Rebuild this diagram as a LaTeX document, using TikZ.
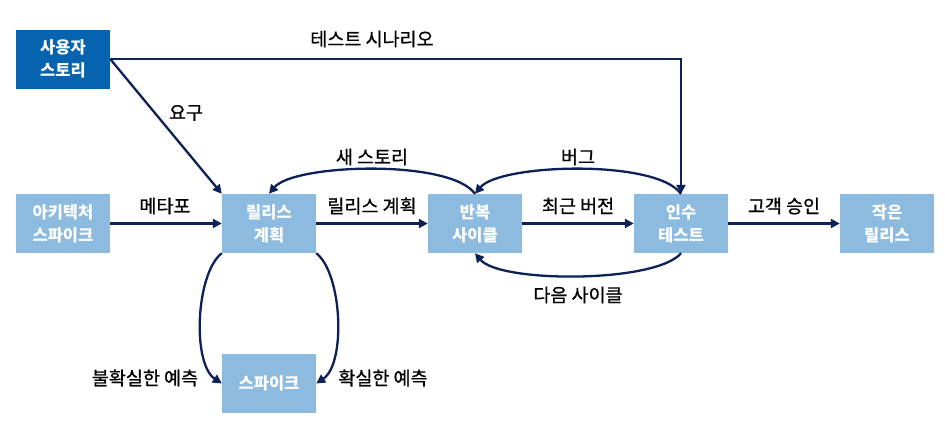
\documentclass[tikz,border=0pt]{standalone}
\usepackage{fontspec}
\setmainfont{Noto Sans CJK KR}
\newfontfamily\lblfont[FakeBold=0.8]{Noto Sans CJK KR}
\usetikzlibrary{arrows.meta}
\definecolor{navy}{HTML}{0B2157}
\definecolor{dkblue}{HTML}{0563B0}
\definecolor{ltblue}{HTML}{8DBBDF}
\begin{document}
\begin{tikzpicture}[x=1pt,y=-1pt,
  box/.style={fill=ltblue,minimum width=94pt,minimum height=59pt,inner sep=0pt,
    text=white,font=\fontsize{16.5}{23}\selectfont\bfseries,align=center},
  dbox/.style={box,fill=dkblue},
  lbl/.style={font=\lblfont\fontsize{18.5}{22}\selectfont,text=black,inner sep=0pt},
  conn/.style={draw=navy,line width=2.3pt,-{Triangle[length=9pt,width=9pt]}}]
\useasboundingbox (0,0) rectangle (945,423);
\node[dbox] (us) at (63,59) {사용자\\스토리};
\node[box] (as) at (63,223.5) {아키텍처\\스파이크};
\node[box] (rp) at (269,223.5) {릴리스\\계획};
\node[box] (ic) at (475,223.5) {반복\\사이클};
\node[box] (at) at (681,223.5) {인수\\테스트};
\node[box] (sr) at (887,223.5) {작은\\릴리스};
\node[box] (sp) at (269,383.5) {스파이크};
\draw[conn] (us.east) -- (rp.north west);
\draw[conn] (us.east) -| (at.north);
\draw[conn] (as) -- (rp);
\draw[conn] (rp) -- (ic);
\draw[conn] (ic) -- (at);
\draw[conn] (at) -- (sr);
\draw[conn] (ic.north) .. controls +(-25,-35) and +(25,-30) .. (rp.north);
\draw[conn] (at.north) .. controls +(-25,-35) and +(25,-30) .. (ic.north);
\draw[conn] (at.south) .. controls +(-25,30) and +(25,30) .. (ic.south);
\draw[conn] (rp.south west) .. controls +(-26,20) and +(-30,-20) .. (sp.west);
\draw[conn] (rp.south east) .. controls +(26,20) and +(30,-20) .. (sp.east);
\node[lbl] (l1) at (186,113) {요구};
\node[lbl] (l2) at (372,39) {테스트 시나리오};
\node[lbl] (l3) at (165,206) {메타포};
\node[lbl] (l4) at (372,206) {릴리스 계획};
\node[lbl] (l5) at (578,206) {최근 버전};
\node[lbl] (l6) at (784,206) {고객 승인};
\node[lbl] (l7) at (372,157) {새 스토리};
\node[lbl] (l8) at (578,157) {버그};
\node[lbl] (l9) at (578,295) {다음 사이클};
\node[lbl] (l10) at (145,378) {불확실한 예측};
\node[lbl] (l11) at (383,378) {확실한 예측};
\end{tikzpicture}
\end{document}
